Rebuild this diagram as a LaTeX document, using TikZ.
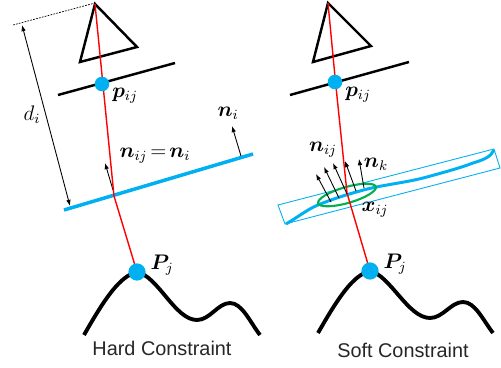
\documentclass[tikz,border=0pt]{standalone}
\usepackage{amsmath,amssymb,bm}
\usepackage{fontspec}
\setmainfont{Liberation Sans}
\usepackage{xcolor}
\usetikzlibrary{calc,arrows.meta,positioning}
\definecolor{dotblue}{RGB}{0,176,240}
\definecolor{patchgreen}{RGB}{0,176,80}
\thickmuskip=2.5mu

\begin{document}
\begin{tikzpicture}[
    x=0.02cm,y=-0.02cm,
    >={Latex[length=3.5pt,width=2.6pt]},
    every node/.style={font=\large,inner sep=0pt},
    caption/.style={font=\fontsize{11.3}{13}\selectfont,text=black!85},
    camera/.style={line width=1.4pt,line join=miter,black},
    imageplane/.style={line width=1.4pt,black},
    ray/.style={red,line width=0.8pt},
    surface/.style={line width=2.2pt,black},
    normalarrow/.style={->,line width=0.5pt},
    patch/.style={dotblue,line width=1.7pt},
    keypoint/.style={circle,fill=dotblue,minimum size=#1}
]

\useasboundingbox (0,0) rectangle (501,368);

% Left: camera and image plane
\draw[camera] (95,4) -- (80,62) -- (137,47) -- cycle;
\draw[imageplane] (58,95) -- (175,63);

% Left: plane and normals
\draw[dotblue,line width=2pt] (64,210) -- (253,154);
\draw[normalarrow] (241,156) -- (232,126);
\draw[normalarrow] (113,190) -- (105,163);

% Left: distance to the plane
\draw[dash pattern=on 1pt off 0.7pt,line width=0.4pt] (13,25) -- (95,3);
\draw[<->,line width=0.5pt] (22,25) -- (70,206);

% Left: ray
\coordinate (camL) at (95,4);
\coordinate (hitL) at (114,196);
\draw[ray] (camL) -- (102.9,84) -- (hitL) -- (137,272);

% Left: terrain
\draw[surface] (84,335)
    .. controls (105,298) and (120,276) .. (137,272)
    .. controls (158,276) and (175,320) .. (197,320)
    .. controls (210,320) and (218,303) .. (230,303)
    .. controls (242,303) and (250,322) .. (260,335);

\node[keypoint=8.3pt] (pixL) at (102,84) {};
\node[keypoint=9.8pt] (ptL) at (137,272) {};

\node (pixLabelL) at (125,96) {\(\bm{p}_{ij}\)};
\node (distLabel) at (32,115) {\(d_i\)};
\node (normLabelL) at (228,113) {\(\bm{n}_i\)};
\node (eqLabel) at (155,156) {\(\bm{n}_{ij}=\bm{n}_i\)};
\node (ptLabelL) at (162,265) {\(\bm{P}_j\)};
\node[caption] (hardLabel) at (162,348) {Hard Constraint};

% Right: camera and image plane
\draw[camera] (328,3) -- (313,62) -- (371,46) -- cycle;
\draw[imageplane] (290,95) -- (409,62);

% Right: box around the noisy points
\draw[dotblue,line width=0.5pt] (278,205) -- (494,149) -- (500,168) -- (285,224) -- cycle;
\draw[patch] (286,224)
    .. controls (298,217) and (308,209) .. (318,205)
    .. controls (330,200) and (345,195) .. (360,191)
    .. controls (380,185) and (405,183) .. (427,177)
    .. controls (445,172) and (460,168) .. (473,163)
    .. controls (483,160) and (491,157) .. (494,150);
\draw[patchgreen,line width=1.2pt,rotate around={16:(347,195)}]
    (347,195) ellipse (30 and 8);

% Right: ray
\coordinate (camR) at (328,3);
\coordinate (hitR) at (347,193);
\draw[ray] (camR) -- (335.5,82) -- (hitR) -- (370,271);

% Right: normals
\draw[normalarrow] (331,202) -- (316,174);
\draw[normalarrow] (339,198) -- (324,167);
\draw[normalarrow] (347,194) -- (333,163);
\draw[normalarrow] (356,191) -- (345,161);
\draw[normalarrow] (364,188) -- (359,159);

% Right: terrain
\draw[surface] (318,333)
    .. controls (338,298) and (353,275) .. (370,271)
    .. controls (390,275) and (408,318) .. (430,318)
    .. controls (443,318) and (451,302) .. (463,302)
    .. controls (475,302) and (483,320) .. (493,333);

\node[keypoint=8.3pt] (pixR) at (335,82) {};
\node[keypoint=9.8pt] (ptR) at (370,271) {};

\node (pixLabelR) at (358,95) {\(\bm{p}_{ij}\)};
\node (normLabelR) at (323,150) {\(\bm{n}_{ij}\)};
\node (normLabelK) at (376,164) {\(\bm{n}_k\)};
\node (pointLabel) at (375,210) {\(\bm{x}_{ij}\)};
\node (ptLabelR) at (395,264) {\(\bm{P}_j\)};
\node[caption] (softLabel) at (403,350) {Soft Constraint};

\end{tikzpicture}
\end{document}
